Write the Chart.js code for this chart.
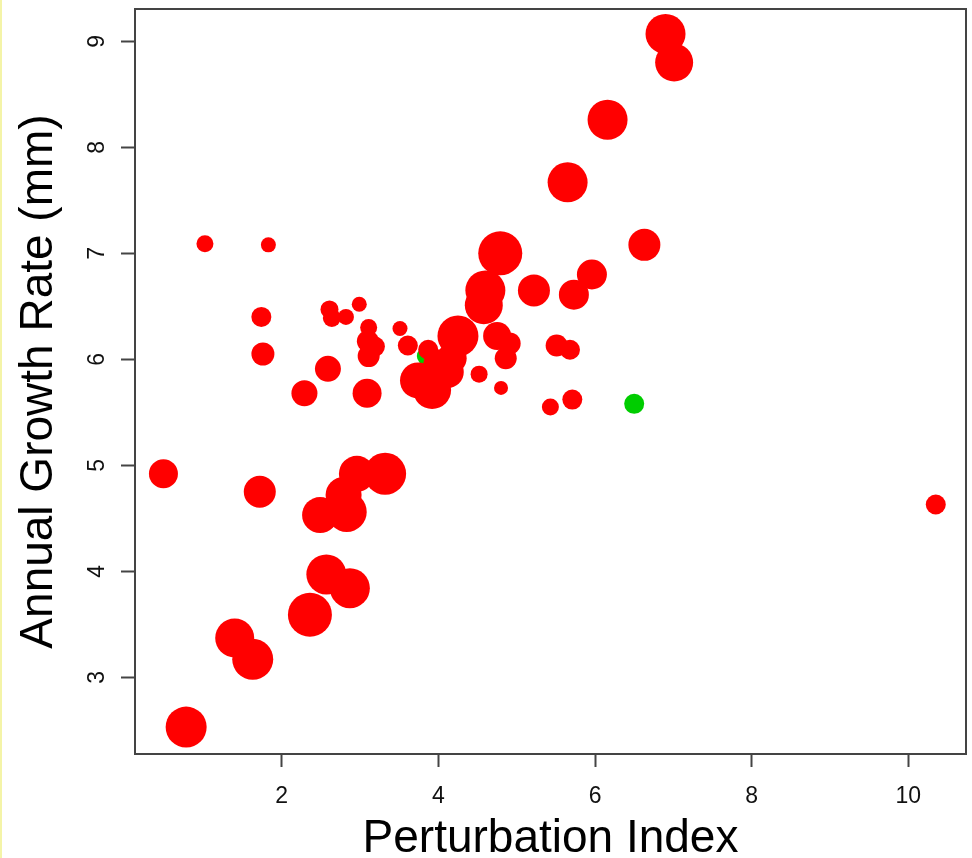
<!DOCTYPE html>
<html>
<head>
<meta charset="utf-8">
<script src="https://cdn.jsdelivr.net/npm/chart.js@4.4.1/dist/chart.umd.min.js"></script>
<style>
  html, body { margin: 0; padding: 0; background: #fff; }
  canvas { display: block; }
</style>
</head>
<body>
<canvas id="growth" width="972" height="858"></canvas>
<script>
// red sites: perturbation index, annual growth (mm), symbol size
const redPerturbation = [6.90, 7.01, 6.16, 5.65, 6.63, 4.79, 4.60, 4.58, 5.22, 5.96, 5.73,
  1.02, 1.83, 1.74, 1.76, 2.61, 2.64, 2.82, 2.99, 3.11, 3.10, 3.19, 3.11, 3.51, 3.61,
  2.59, 2.29, 3.09, 4.25, 4.75, 4.91, 4.86, 4.52, 4.80, 5.43, 5.71, 5.51, 5.68, 10.35,
  0.49, 1.72, 3.32, 2.96, 2.79, 2.83, 2.49, 2.57, 2.87, 2.36, 1.40, 1.63, 0.78,
  3.87, 3.74, 3.92, 4.12, 4.17, 4.00];
const redGrowth = [9.07, 8.80, 8.26, 7.67, 7.08, 7.00, 6.65, 6.51, 6.65, 6.80, 6.61,
  7.09, 7.08, 6.40, 6.05, 6.47, 6.39, 6.40, 6.52, 6.30, 6.17, 6.12, 6.03, 6.29, 6.13,
  5.91, 5.68, 5.68, 6.22, 6.22, 6.15, 6.01, 5.86, 5.73, 5.55, 5.62, 6.13, 6.09, 4.63,
  4.92, 4.75, 4.92, 4.92, 4.72, 4.56, 4.53, 3.97, 3.84, 3.59, 3.37, 3.17, 2.53,
  6.09, 5.80, 5.71, 5.88, 6.01, 5.95];
const redSize = [20, 19, 20, 20, 16, 22, 20, 19, 16, 15, 15,
  8.5, 7.5, 10, 11.5, 9, 9, 8, 7.5, 8.5, 11, 10, 11, 7.5, 10,
  13, 13, 14.5, 20.5, 14, 11, 11, 8.5, 7, 8.5, 10, 11, 10, 10,
  14.5, 16, 21, 18, 18, 20, 18, 20, 20, 22, 19.5, 20.5, 20.5,
  10, 18, 19, 16, 15, 15];

// green sites
const greenPerturbation = [6.50, 3.84];
const greenGrowth = [5.58, 6.03];
const greenSize = [10, 9];

const xTicks = [2, 4, 6, 8, 10];
const yTicks = [3, 4, 5, 6, 7, 8, 9];

function toBubbles(xs, ys, rs) {
  return xs.map((x, i) => ({ x: x, y: ys[i], r: rs[i] }));
}

function noPadding(s) {
  s.paddingLeft = 0;
  s.paddingRight = 0;
  s.paddingTop = 0;
  s.paddingBottom = 0;
}

const frame = {
  id: 'frame',
  beforeDraw(chart) {
    const c = chart.ctx;
    c.save();
    c.fillStyle = '#ffffff';
    c.fillRect(0, 0, chart.width, chart.height);
    c.fillStyle = '#f4f4a8';
    c.fillRect(0, 0, 2, chart.height);
    c.restore();
  },
  afterDraw(chart) {
    const a = chart.chartArea, c = chart.ctx;
    c.save();
    c.strokeStyle = '#444444';
    c.lineWidth = 2;
    c.strokeRect(a.left, a.top, a.right - a.left, a.bottom - a.top);
    c.restore();
  }
};

new Chart(document.getElementById('growth'), {
  type: 'bubble',
  data: {
    datasets: [
      {
        label: 'red',
        data: toBubbles(redPerturbation, redGrowth, redSize),
        backgroundColor: '#ff0000',
        borderWidth: 0,
        hoverRadius: 0
      },
      {
        label: 'green',
        data: toBubbles(greenPerturbation, greenGrowth, greenSize),
        backgroundColor: '#00cd00',
        borderWidth: 0,
        hoverRadius: 0
      }
    ]
  },
  options: {
    responsive: false,
    animation: false,
    events: [],
    layout: { autoPadding: false, padding: { left: 0, right: 6, top: 9, bottom: 0 } },
    plugins: { legend: { display: false }, tooltip: { enabled: false } },
    scales: {
      x: {
        type: 'linear',
        min: 0.127,
        max: 10.736,
        afterBuildTicks: s => { s.ticks = xTicks.map(v => ({ value: v })); },
        afterFit: s => { s.height = 104; noPadding(s); },
        grid: { drawOnChartArea: false, drawTicks: true, tickLength: 13, tickColor: '#444444', tickWidth: 2 },
        border: { display: true, color: '#444444', width: 2 },
        ticks: {
          autoSkip: false,
          maxRotation: 0,
          padding: 16,
          color: '#111111',
          font: { family: 'Liberation Sans, Arial, sans-serif', size: 23 }
        },
        title: {
          display: true,
          text: 'Perturbation Index',
          color: '#000000',
          padding: { top: 0, bottom: 0 },
          font: { family: 'Liberation Sans, Arial, sans-serif', size: 46, lineHeight: 0.8 }
        }
      },
      y: {
        type: 'linear',
        min: 2.276,
        max: 9.305,
        afterBuildTicks: s => { s.ticks = yTicks.map(v => ({ value: v })); },
        afterFit: s => { s.width = 135; noPadding(s); },
        grid: { drawOnChartArea: false, drawTicks: true, tickLength: 14, tickColor: '#444444', tickWidth: 2 },
        border: { display: true, color: '#444444', width: 2 },
        ticks: {
          autoSkip: false,
          minRotation: 90,
          maxRotation: 90,
          crossAlign: 'center',
          padding: 17,
          color: '#111111',
          font: { family: 'Liberation Sans, Arial, sans-serif', size: 23 }
        },
        title: {
          display: true,
          text: 'Annual Growth Rate (mm)',
          color: '#000000',
          padding: { top: 21, bottom: 0 },
          font: { family: 'Liberation Sans, Arial, sans-serif', size: 46, lineHeight: 0.8 }
        }
      }
    }
  },
  plugins: [frame]
});
</script>
</body>
</html>
